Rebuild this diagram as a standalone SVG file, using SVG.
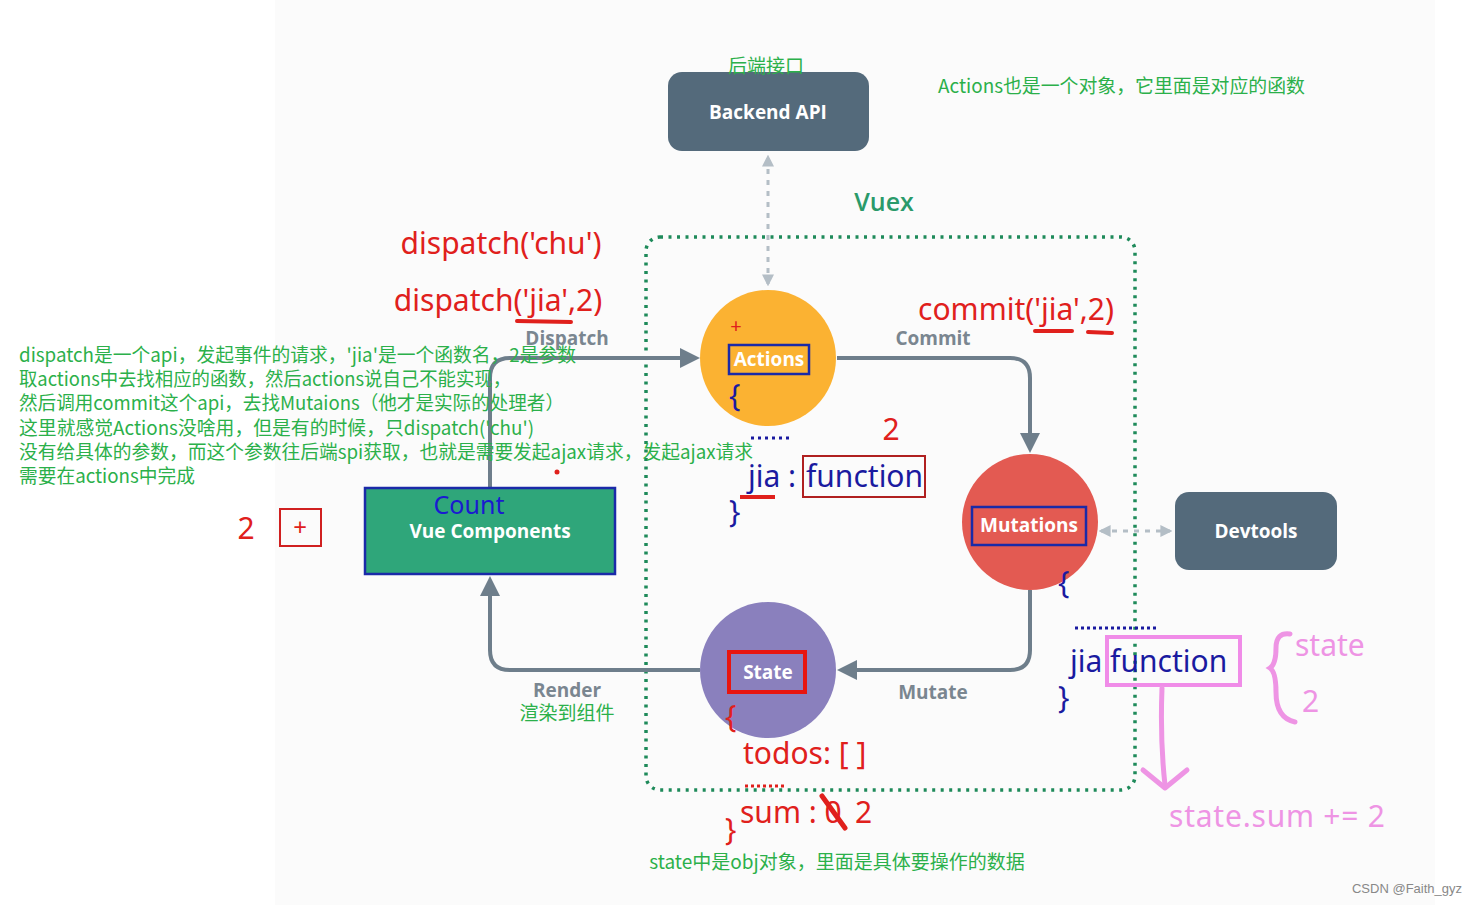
<svg xmlns="http://www.w3.org/2000/svg" width="1478" height="905" viewBox="0 0 1478 905">
<defs>
<style>
.g{font-family:"Noto Sans CJK SC","Noto Sans",sans-serif;fill:#2bb04a;font-size:19px}
.r{font-family:"Noto Sans","Noto Sans CJK SC",sans-serif;fill:#e0201c;font-size:30px}
.b{font-family:"Noto Sans","Noto Sans CJK SC",sans-serif;fill:#1a1aa0;font-size:30px}
.p{font-family:"Noto Sans","Noto Sans CJK SC",sans-serif;fill:#ee94e4;font-size:30px}
.lbl{font-family:"Open Sans","Lato",sans-serif;font-weight:700;fill:#ffffff;font-size:19px;text-anchor:middle}
.cl{font-family:"Open Sans","Lato",sans-serif;font-weight:700;fill:#7a8690;font-size:19px;text-anchor:middle}
.conn{fill:none;stroke:#6e7e8b;stroke-width:4}
.dot{fill:none;stroke:#b4bec6;stroke-width:3;stroke-dasharray:5 6}
</style>
<marker id="ah" viewBox="0 0 10 10" refX="8" refY="5" markerWidth="5" markerHeight="5" orient="auto-start-reverse"><path d="M0,0 L10,5 L0,10 z" fill="#6e7e8b"/></marker>
<marker id="ahl" viewBox="0 0 10 10" refX="8" refY="5" markerWidth="4" markerHeight="4" orient="auto-start-reverse"><path d="M0,0 L10,5 L0,10 z" fill="#b4bec6"/></marker>
</defs>
<rect width="1478" height="905" fill="#ffffff"/>
<rect x="275" y="0" width="1160" height="905" fill="#fbfbfb"/>

<!-- Vuex container -->
<g id="vuex">
<rect x="646" y="237" width="489" height="553" rx="14" fill="none" stroke="#1e8a5a" stroke-width="3.5" stroke-dasharray="3 5.5"/>
<text x="884" y="211" font-family="Open Sans,Lato,sans-serif" font-weight="600" font-size="25" fill="#2a9a6a" text-anchor="middle">Vuex</text>
</g>

<g id="connectors">
<path class="conn" d="M490,488 V378 Q490,358 510,358 H696" marker-end="url(#ah)"/>
<path class="conn" d="M837,358 H1010 Q1030,358 1030,378 V449" marker-end="url(#ah)"/>
<path class="conn" d="M1030,590 V650 Q1030,670 1010,670 H841" marker-end="url(#ah)"/>
<path class="conn" d="M700,670 H510 Q490,670 490,650 V580" marker-end="url(#ah)"/>
<path class="dot" d="M768,284 V157" marker-start="url(#ahl)" marker-end="url(#ahl)"/>
<path class="dot" d="M1101,531 H1170" marker-start="url(#ahl)" marker-end="url(#ahl)"/>
<text class="cl" x="567" y="345">Dispatch</text>
<text class="cl" x="933" y="345">Commit</text>
<text class="cl" x="933" y="699">Mutate</text>
<text class="cl" x="567" y="697" font-size="18">Render</text>
<text class="g" x="567" y="720" text-anchor="middle">渲染到组件</text>
</g>

<g id="backend">
<rect x="668" y="72" width="201" height="79" rx="14" fill="#546a7b"/>
<text class="lbl" x="768" y="119">Backend API</text>
<text class="g" x="766" y="73" text-anchor="middle" font-size="17">后端接口</text>
</g>

<g id="devtools">
<rect x="1175" y="492" width="162" height="78" rx="14" fill="#546a7b"/>
<text class="lbl" x="1256" y="538">Devtools</text>
</g>

<g id="components">
<rect x="365" y="488" width="250" height="86" fill="#2fa67a" stroke="#1a2aa8" stroke-width="2.5"/>
<text x="469" y="514" font-family="Noto Sans,sans-serif" font-size="25" fill="#1a1ad0" text-anchor="middle">Count</text>
<text class="lbl" x="490" y="538">Vue Components</text>
</g>

<g id="actions">
<circle cx="768" cy="358" r="68" fill="#fbb232"/>
<rect x="729" y="345" width="80" height="29" fill="none" stroke="#1a2aa8" stroke-width="2.5"/>
<text class="lbl" x="769" y="366">Actions</text>
<text x="736" y="333" font-family="Noto Sans,sans-serif" font-size="20" fill="#e0201c" text-anchor="middle">+</text>
<text class="b" x="729" y="406" font-size="28">{</text>
<line x1="751" y1="438" x2="790" y2="438" stroke="#1a1aa0" stroke-width="3" stroke-dasharray="3 4"/>
<text class="b" x="748" y="487" font-size="32">jia : </text>
<rect x="803" y="456" width="122" height="41" fill="none" stroke="#b02020" stroke-width="2"/>
<text class="b" x="806" y="487" font-size="32">function</text>
<line x1="740" y1="497" x2="775" y2="497" stroke="#e0201c" stroke-width="4"/>
<text class="b" x="729" y="522" font-size="28">}</text>
<text class="r" x="891" y="440" text-anchor="middle">2</text>
</g>

<g id="mutations">
<circle cx="1030" cy="522" r="68" fill="#e35a52"/>
<rect x="972" y="507" width="114" height="38" fill="none" stroke="#1a2aa8" stroke-width="2.5"/>
<text class="lbl" x="1029" y="532">Mutations</text>
<text class="r" x="1016" y="320" text-anchor="middle">commit('jia',2)</text>
<line x1="1035" y1="331" x2="1072" y2="331" stroke="#e0201c" stroke-width="4" stroke-linecap="round"/>
<line x1="1088" y1="332" x2="1112" y2="333" stroke="#e0201c" stroke-width="4" stroke-linecap="round"/>
<text class="b" x="1058" y="593" font-size="28">{</text>
<line x1="1075" y1="628" x2="1158" y2="628" stroke="#1a1aa0" stroke-width="3" stroke-dasharray="3 3"/>
<text class="b" x="1070" y="672" font-size="32">jia function</text>
<rect x="1107" y="637" width="133" height="48" fill="none" stroke="#f08ce8" stroke-width="4"/>
<text class="b" x="1058" y="708" font-size="28">}</text>
</g>

<g id="state">
<circle cx="768" cy="670" r="68" fill="#8a80bd"/>
<rect x="729" y="652" width="76" height="40" fill="none" stroke="#e8150f" stroke-width="4"/>
<text class="lbl" x="768" y="679">State</text>
<text class="r" x="725" y="727" font-size="28">{</text>
<text class="r" x="743" y="764">todos: [ ]</text>
<line x1="745" y1="786" x2="785" y2="786" stroke="#e0201c" stroke-width="3" stroke-dasharray="3 3"/>
<text class="r" x="740" y="823">sum : 0</text>
<text class="r" x="855" y="823">2</text>
<line x1="822" y1="796" x2="845" y2="828" stroke="#e0201c" stroke-width="5" stroke-linecap="round"/>
<text class="r" x="725" y="840" font-size="28">}</text>
<text class="g" x="837" y="869" text-anchor="middle">state中是obj对象，里面是具体要操作的数据</text>
</g>

<g id="pink">
<path d="M1162,688 Q1160,740 1165,785" fill="none" stroke="#ee94e4" stroke-width="5" stroke-linecap="round"/>
<path d="M1143,770 L1165,788 L1187,770" fill="none" stroke="#ee94e4" stroke-width="5" stroke-linecap="round" stroke-linejoin="round"/>
<path d="M1290,634 Q1276,632 1276,648 Q1276,664 1270,668 Q1276,672 1276,692 Q1276,718 1295,722" fill="none" stroke="#ee94e4" stroke-width="5" stroke-linecap="round"/>
<text class="p" x="1295" y="656">state</text>
<text class="p" x="1302" y="712">2</text>
<text class="p" x="1169" y="827" textLength="216" lengthAdjust="spacing">state.sum += 2</text>
</g>

<g id="dispatch-notes">
<text class="r" x="501" y="254" text-anchor="middle">dispatch('chu')</text>
<text class="r" x="498" y="311" text-anchor="middle">dispatch('jia',2)</text>
<line x1="517" y1="321" x2="571" y2="322" stroke="#e0201c" stroke-width="4" stroke-linecap="round"/>
<text class="r" x="246" y="539" text-anchor="middle">2</text>
<rect x="280" y="509" width="41" height="37" fill="none" stroke="#d02020" stroke-width="2"/>
<text x="300" y="536" font-family="Noto Sans,sans-serif" font-size="24" fill="#e0201c" text-anchor="middle">+</text>
<circle cx="557" cy="472" r="2.5" fill="#e0201c"/>
</g>

<g id="left-notes">
<text class="g" x="19" y="362" textLength="557" lengthAdjust="spacingAndGlyphs">dispatch是一个api，发起事件的请求，'jia'是一个函数名，2是参数</text>
<text class="g" x="19" y="386" textLength="492" lengthAdjust="spacingAndGlyphs">取actions中去找相应的函数，然后actions说自己不能实现，</text>
<text class="g" x="19" y="410" textLength="545" lengthAdjust="spacingAndGlyphs">然后调用commit这个api，去找Mutaions（他才是实际的处理者）</text>
<text class="g" x="19" y="435" textLength="515" lengthAdjust="spacingAndGlyphs">这里就感觉Actions没啥用，但是有的时候，只dispatch('chu')</text>
<text class="g" x="19" y="459" textLength="734" lengthAdjust="spacingAndGlyphs">没有给具体的参数，而这个参数往后端spi获取，也就是需要发起ajax请求，发起ajax请求</text>
<text class="g" x="19" y="483" textLength="176" lengthAdjust="spacingAndGlyphs">需要在actions中完成</text>
<text class="g" x="938" y="93" textLength="367" lengthAdjust="spacingAndGlyphs">Actions也是一个对象，它里面是对应的函数</text>
</g>

<text x="1462" y="893" font-family="Liberation Sans,sans-serif" font-size="13" fill="#888888" text-anchor="end">CSDN @Faith_gyz</text>
</svg>
